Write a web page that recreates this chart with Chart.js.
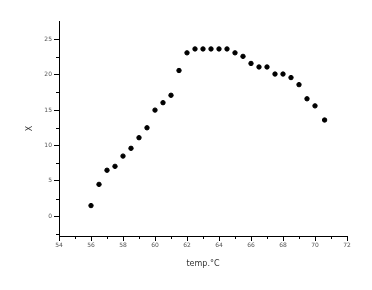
<!DOCTYPE html>
<html>
<head>
<meta charset="utf-8">
<script src="https://cdn.jsdelivr.net/npm/chart.js@4"></script>
<style>
  body { margin: 0; background: #fff; }
  canvas { display: block; }
</style>
</head>
<body>
<canvas id="grafico" width="372" height="290"></canvas>
<script>
// temperatura (°C) e valores de X
let temps = [56, 56.5, 57, 57.5, 58, 58.5, 59, 59.5, 60, 60.5, 61, 61.5, 62, 62.5, 63,
  63.5, 64, 64.5, 65, 65.5, 66, 66.5, 67, 67.5, 68, 68.5, 69, 69.5, 70, 70.6];
let valoresX = [1.5, 4.5, 6.5, 7.05, 8.5, 9.6, 11.1, 12.5, 15.0, 16.05, 17.1, 20.6, 23.1, 23.65, 23.65,
  23.65, 23.65, 23.65, 23.1, 22.6, 21.6, 21.1, 21.1, 20.1, 20.1, 19.6, 18.6, 16.6, 15.6, 13.6];
let xTicks = [54, 56, 58, 60, 62, 64, 66, 68, 70, 72];
let yTicks = [0, 5, 10, 15, 20, 25];
let xMinor = [55, 57, 59, 61, 63, 65, 67, 69, 71];
let yMinor = [-2.5, 2.5, 7.5, 12.5, 17.5, 22.5];

let pontos = temps.map((t, i) => ({ x: t, y: valoresX[i] }));

// ticks menores, desenhados pela escala do proprio grafico
const minorTicks = {
  id: 'minorTicks',
  afterDraw(chart) {
    let ctx = chart.ctx;
    let sx = chart.scales.x, sy = chart.scales.y;
    ctx.save();
    ctx.strokeStyle = '#000';
    ctx.lineWidth = 1;
    ctx.beginPath();
    xMinor.forEach(v => {
      let px = Math.round(sx.getPixelForValue(v)) + 0.5;
      ctx.moveTo(px, sx.top);
      ctx.lineTo(px, sx.top + 3);
    });
    yMinor.forEach(v => {
      let py = Math.round(sy.getPixelForValue(v)) + 0.5;
      ctx.moveTo(sy.right, py);
      ctx.lineTo(sy.right - 3, py);
    });
    ctx.stroke();
    ctx.restore();
  }
};

let tickFont = { family: 'DejaVu Sans', size: 6 };

new Chart(document.getElementById('grafico'), {
  type: 'scatter',
  data: {
    datasets: [{
      data: pontos,
      backgroundColor: '#000',
      borderColor: '#000',
      pointRadius: 2.2,
      pointHoverRadius: 2.2
    }]
  },
  options: {
    responsive: false,
    animation: false,
    layout: { padding: { left: 0, top: 21, right: 25, bottom: 0 } },
    plugins: { legend: { display: false }, tooltip: { enabled: false } },
    scales: {
      x: {
        type: 'linear',
        min: 54,
        max: 72,
        afterBuildTicks: s => { s.ticks = xTicks.map(v => ({ value: v })); },
        afterFit: s => { s.height = 54; },
        border: { color: '#000', width: 1 },
        grid: { drawOnChartArea: false, drawTicks: true, tickLength: 5, color: '#000' },
        ticks: { font: tickFont, color: '#555', padding: 1, maxRotation: 0 },
        title: { display: true, text: 'temp.°C', font: { family: 'DejaVu Sans', size: 8 }, color: '#333', padding: { top: 0, bottom: 21 } }
      },
      y: {
        type: 'linear',
        min: -2.8,
        max: 27.6,
        afterBuildTicks: s => { s.ticks = yTicks.map(v => ({ value: v })); },
        afterFit: s => { s.width = 59; },
        border: { color: '#000', width: 1 },
        grid: { drawOnChartArea: false, drawTicks: true, tickLength: 5, color: '#000' },
        ticks: { font: tickFont, color: '#555', padding: 2 },
        title: { display: true, text: 'X', font: { family: 'DejaVu Sans', size: 8 }, color: '#333', padding: { top: 25, bottom: 0 } }
      }
    }
  },
  plugins: [minorTicks]
});
</script>
</body>
</html>
